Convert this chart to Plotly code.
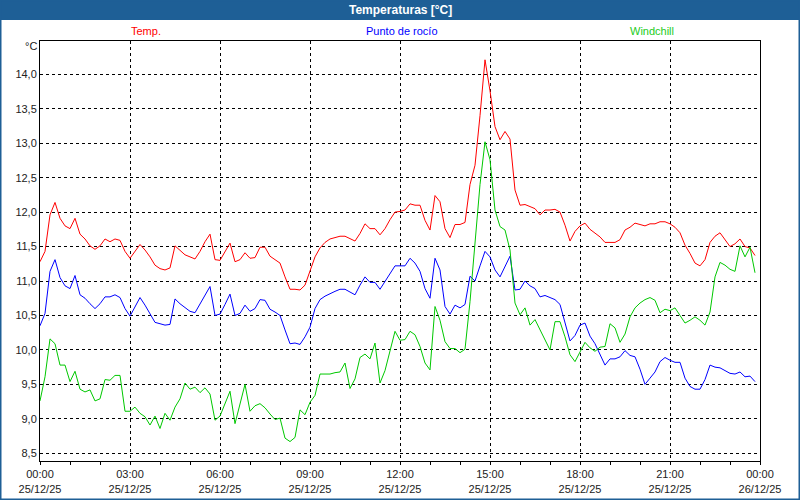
import pandas as pd
import plotly.graph_objects as go

# 10-minute samples, 25/12/25 00:00 .. 23:50
temp = [
    11.28, 11.43, 11.96, 12.14, 11.91, 11.80,
    11.76, 11.91, 11.68, 11.61, 11.51, 11.46,
    11.51, 11.61, 11.57, 11.61, 11.59, 11.43,
    11.33, 11.43, 11.53, 11.45, 11.35, 11.23,
    11.18, 11.16, 11.19, 11.51, 11.45, 11.38,
    11.35, 11.32, 11.43, 11.57, 11.68, 11.31,
    11.30, 11.43, 11.55, 11.28, 11.31, 11.41,
    11.33, 11.34, 11.49, 11.49, 11.36, 11.31,
    11.26, 11.06, 10.88, 10.88, 10.87, 10.94,
    11.14, 11.35, 11.48, 11.56, 11.61, 11.63,
    11.65, 11.65, 11.62, 11.58, 11.69, 11.83,
    11.76, 11.76, 11.67, 11.76, 11.89, 12.00,
    12.01, 12.03, 12.12, 12.10, 12.10, 11.88,
    11.74, 12.24, 12.15, 11.76, 11.63, 11.82,
    11.82, 11.85, 12.40, 12.68, 13.40, 14.21,
    13.76, 13.24, 13.05, 13.17, 13.06, 12.32,
    12.10, 12.11, 12.08, 12.05, 11.96, 12.03,
    12.03, 12.04, 12.00, 11.81, 11.58, 11.72,
    11.80, 11.84, 11.75, 11.69, 11.64, 11.56,
    11.56, 11.56, 11.60, 11.74, 11.78, 11.84,
    11.82, 11.80, 11.83, 11.83, 11.86, 11.86,
    11.83, 11.78, 11.70, 11.52, 11.40, 11.26,
    11.22, 11.31, 11.56, 11.65, 11.70, 11.60,
    11.50, 11.54, 11.61, 11.50, 11.48, 11.37,
]

dew_point = [
    10.35, 10.53, 11.14, 11.31, 11.05, 10.93,
    10.89, 11.08, 10.80, 10.75, 10.67, 10.60,
    10.67, 10.77, 10.77, 10.80, 10.76, 10.60,
    10.49, 10.63, 10.76, 10.65, 10.52, 10.40,
    10.38, 10.36, 10.37, 10.74, 10.67, 10.62,
    10.56, 10.54, 10.67, 10.81, 10.92, 10.50,
    10.52, 10.66, 10.81, 10.50, 10.53, 10.65,
    10.56, 10.60, 10.73, 10.72, 10.59, 10.55,
    10.50, 10.29, 10.09, 10.10, 10.08, 10.19,
    10.33, 10.60, 10.73, 10.78, 10.82, 10.85,
    10.88, 10.88, 10.84, 10.80, 10.94, 11.06,
    10.98, 10.98, 10.88, 10.99, 11.11, 11.22,
    11.22, 11.22, 11.33, 11.26, 11.14, 10.89,
    10.75, 11.33, 11.16, 10.63, 10.52, 10.65,
    10.61, 10.66, 11.07, 11.00, 11.22, 11.43,
    11.35, 11.16, 11.06, 11.21, 11.36, 10.87,
    10.88, 11.00, 10.93, 10.89, 10.77, 10.79,
    10.76, 10.73, 10.66, 10.38, 10.13, 10.21,
    10.36, 10.39, 10.20, 10.09, 9.94, 9.78,
    9.87, 9.87, 9.90, 9.99, 9.92, 9.90,
    9.72, 9.50, 9.59, 9.68, 9.83, 9.89,
    9.85, 9.82, 9.82, 9.59, 9.47, 9.43,
    9.43, 9.57, 9.78, 9.75, 9.74, 9.70,
    9.66, 9.65, 9.68, 9.61, 9.62, 9.54,
]

windchill = [
    9.26, 9.61, 10.16, 10.09, 9.78, 9.78,
    9.54, 9.69, 9.43, 9.39, 9.42, 9.26,
    9.29, 9.57, 9.56, 9.63, 9.63, 9.11,
    9.11, 9.17, 9.08, 9.03, 8.91, 9.04,
    8.86, 9.08, 8.98, 9.17, 9.29, 9.52,
    9.43, 9.46, 9.38, 9.45, 9.36, 8.98,
    9.04, 9.22, 9.40, 8.93, 9.22, 9.50,
    9.11, 9.19, 9.22, 9.16, 9.07, 8.99,
    9.01, 8.72, 8.67, 8.73, 9.13, 9.06,
    9.24, 9.34, 9.65, 9.65, 9.65, 9.67,
    9.68, 9.81, 9.44, 9.58, 9.89, 9.94,
    9.87, 10.10, 9.52, 9.70, 9.97, 10.27,
    10.14, 10.15, 10.27, 10.22, 10.05, 9.81,
    9.71, 10.63, 10.43, 10.12, 10.02, 10.02,
    9.96, 10.01, 10.70, 11.50, 12.40, 13.02,
    12.76, 12.03, 11.79, 11.74, 11.45, 10.68,
    10.51, 10.61, 10.36, 10.44, 10.29, 10.15,
    10.00, 10.41, 10.41, 10.19, 9.93, 9.83,
    9.97, 10.11, 10.03, 9.98, 10.04, 10.05,
    10.38, 10.32, 10.11, 10.23, 10.48, 10.61,
    10.68, 10.73, 10.76, 10.72, 10.54, 10.59,
    10.57, 10.61, 10.50, 10.39, 10.43, 10.48,
    10.43, 10.36, 10.55, 11.06, 11.27, 11.23,
    11.17, 11.14, 11.51, 11.35, 11.49, 11.12,
]

series_names = ["Temp.", "Punto de rocío", "Windchill"]
series_colors = ["#ff0000", "#0000ff", "#00c800"]
y_ticks = [8.5, 9.0, 9.5, 10.0, 10.5, 11.0, 11.5, 12.0, 12.5, 13.0, 13.5, 14.0]

times = pd.date_range("2025-12-25 00:00", periods=len(temp), freq="10min")
x_start = pd.Timestamp("2025-12-25 00:00")
x_end = pd.Timestamp("2025-12-26 00:00")
x_ticks = pd.date_range(x_start, x_end, freq="3h")

FONT = "Liberation Sans"
BAR = "#1e5f96"

fig = go.Figure()
for vals, name, col in zip([temp, dew_point, windchill], series_names, series_colors):
    fig.add_trace(go.Scatter(x=times, y=vals, mode="lines", name=name,
                             line=dict(color=col, width=1), showlegend=False))

W, H = 800, 500
L, R, T, B = 40, 40, 41, 39
pw, ph = W - L - R, H - T - B

def px_x(X):
    return (X - L) / pw

def px_y(Y):
    return (H - B - Y) / ph

def label(text, X, Y, color, size=11):
    return dict(text=text, xref="paper", yref="paper",
                x=px_x(X), y=px_y(Y), xanchor="center", yanchor="middle",
                showarrow=False, font=dict(family=FONT, size=size, color=color))

fig.update_layout(
    width=W, height=H,
    margin=dict(l=L, r=R, t=T, b=B, pad=0),
    paper_bgcolor="white", plot_bgcolor="white",
    separators=", ",
    font=dict(family=FONT, size=11, color="#222222"),
    xaxis=dict(
        range=[x_start, x_end], type="date", automargin=False,
        tickvals=list(x_ticks), tickformat="%H:%M<br>%d/%m/%y",
        showgrid=True, gridcolor="black", gridwidth=1, griddash="3px,3px",
        showline=True, linecolor="black", linewidth=1, mirror=True,
        ticks="outside", ticklen=3, tickcolor="black",
        minor=dict(dtick=3600000, ticks="outside", ticklen=3, tickcolor="black", showgrid=False),
        zeroline=False, fixedrange=True,
    ),
    yaxis=dict(
        range=[8.388, 14.483], automargin=False,
        tickvals=y_ticks, tickformat=".1f",
        showgrid=True, gridcolor="black", gridwidth=1, griddash="3px,3px",
        showline=True, linecolor="black", linewidth=1, mirror=True,
        ticks="", zeroline=False, fixedrange=True,
    ),
    shapes=[
        dict(type="rect", xref="paper", yref="paper",
             x0=px_x(0), x1=px_x(W), y0=px_y(20), y1=px_y(0),
             fillcolor=BAR, line=dict(width=0), layer="above"),
        dict(type="rect", xref="paper", yref="paper",
             x0=px_x(0.75), x1=px_x(W - 0.75), y0=px_y(H - 0.75), y1=px_y(0.75),
             fillcolor="rgba(0,0,0,0)", line=dict(color=BAR, width=1.5), layer="above"),
    ],
    annotations=[
        label("<b>Temperaturas [°C]</b>", 400, 10, "white", 12),
        label(series_names[0], 146, 31, series_colors[0]),
        label(series_names[1], 402, 31, series_colors[1]),
        label(series_names[2], 652, 31, "#22cc22"),
        label("°C", 31, 46, "#222222"),
    ],
)

fig.write_html("out.html",
               config={"displayModeBar": False, "staticPlot": True},
               post_script="document.body.style.margin='0';document.body.style.padding='0';")
